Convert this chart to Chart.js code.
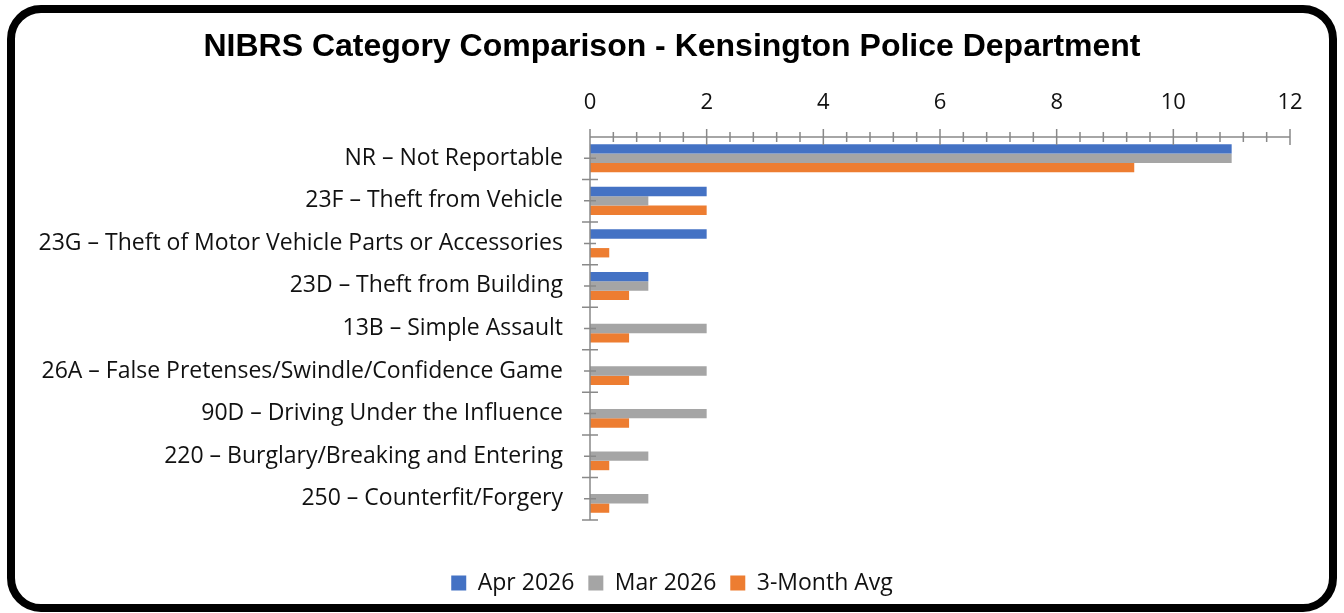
<!DOCTYPE html>
<html><head><meta charset="utf-8">
<script src="https://cdn.jsdelivr.net/npm/chart.js@4.4.1/dist/chart.umd.min.js"></script>
<style>
html,body{margin:0;padding:0;background:#fff;width:1344px;height:613px;overflow:hidden;}
#wrap{position:absolute;left:0;top:0;width:1344px;height:613px;}
#frame{position:absolute;left:7px;top:5px;width:1330px;height:607px;box-sizing:border-box;border:8px solid #000;border-radius:34px;pointer-events:none;}
</style></head><body>
<div id="wrap"><canvas id="c" width="1344" height="613"></canvas></div>
<div id="frame"></div>
<script>
const categories = [
  'NR – Not Reportable',
  '23F – Theft from Vehicle',
  '23G – Theft of Motor Vehicle Parts or Accessories',
  '23D – Theft from Building',
  '13B – Simple Assault',
  '26A – False Pretenses/Swindle/Confidence Game',
  '90D – Driving Under the Influence',
  '220 – Burglary/Breaking and Entering',
  '250 – Counterfit/Forgery'
];
const apr2026 = [11, 2, 2, 1, 0, 0, 0, 0, 0];
const mar2026 = [11, 1, 0, 1, 2, 2, 2, 1, 1];
const avg3Month = [9.33, 2, 0.33, 0.67, 0.67, 0.67, 0.67, 0.33, 0.33];
const seriesNames = ['Apr 2026', 'Mar 2026', '3-Month Avg'];
const xTicks = [0, 2, 4, 6, 8, 10, 12];
const titleText = 'NIBRS Category Comparison - Kensington Police Department';

const AXIS_COLOR = '#898989';
const excelAxes = {
  id: 'excelAxes',
  afterLayout(chart) {
    // let long category labels extend past the layout padding (no clipping)
    chart.scales.y.left = 0;
  },
  afterDatasetsDraw(chart) {
    const { ctx, chartArea: a, scales: { x, y } } = chart;
    ctx.save();
    ctx.strokeStyle = AXIS_COLOR;
    ctx.lineWidth = 1.5;
    const xmin = xTicks[0], xmax = xTicks[xTicks.length - 1];
    const step = xTicks[1] - xTicks[0];
    const minor = step / 5;
    const px0 = x.getPixelForValue(xmin), px1 = x.getPixelForValue(xmax);
    ctx.beginPath();
    ctx.moveTo(px0, a.top); ctx.lineTo(px1, a.top);
    const nMinor = Math.round((xmax - xmin) / minor);
    for (let i = 0; i <= nMinor; i++) {
      const v = xmin + i * minor;
      const p = x.getPixelForValue(v);
      const len = (i % 5 === 0) ? 8 : 5;
      ctx.moveTo(p, a.top - len); ctx.lineTo(p, a.top + len);
    }
    ctx.moveTo(px0, a.top); ctx.lineTo(px0, a.bottom);
    for (let i = 1; i <= categories.length; i++) {
      const p = y.getPixelForValue(i - 0.5);
      ctx.moveTo(px0 - 8, p); ctx.lineTo(px0 + 8, p);
    }
    for (let i = 0; i < categories.length; i++) {
      const p = y.getPixelForValue(i);
      ctx.moveTo(px0 - 6, p); ctx.lineTo(px0 + 6, p);
    }
    ctx.stroke();
    ctx.restore();
  }
};

new Chart(document.getElementById('c'), {
  type: 'bar',
  data: {
    labels: categories,
    datasets: [
      { label: seriesNames[0], data: apr2026, backgroundColor: '#4472C4' },
      { label: seriesNames[1], data: mar2026, backgroundColor: '#A5A5A5' },
      { label: seriesNames[2], data: avg3Month, backgroundColor: '#ED7D31' }
    ]
  },
  options: {
    indexAxis: 'y',
    responsive: false,
    animation: false,
    devicePixelRatio: 1,
    datasets: { bar: { categoryPercentage: 0.66, barPercentage: 1.0, borderWidth: 0 } },
    layout: { padding: { left: 54, right: 54, top: 28, bottom: 8.5 } },
    scales: {
      x: {
        position: 'top',
        min: xTicks[0], max: xTicks[xTicks.length - 1],
        afterBuildTicks(scale) { scale.ticks = xTicks.map(v => ({ value: v })); },
        grid: { display: false, drawTicks: false, tickLength: 0 },
        border: { display: false },
        ticks: { padding: 21.5, color: '#111', font: { family: 'Open Sans', size: 22 } },
        afterFit(scale) { scale.height = 60.6; }
      },
      y: {
        grid: { display: false, drawTicks: false, tickLength: 0 },
        border: { display: false },
        ticks: { padding: 27, color: '#111', font: { family: 'Open Sans', size: 23 }, autoSkip: false },
        afterFit(scale) { scale.width = 536; }
      }
    },
    plugins: {
      title: {
        display: true, text: titleText, color: '#000',
        font: { family: 'Liberation Sans', size: 32, weight: 'bold' },
        padding: { top: 0, bottom: 10 }
      },
      legend: {
        position: 'bottom',
        title: { display: true, text: '', font: { size: 10 }, padding: { top: 11.5, bottom: 14 } },
        labels: {
          boxWidth: 15, boxHeight: 15, padding: 14, color: '#111',
          font: { family: 'Open Sans', size: 23 }
        }
      },
      tooltip: { enabled: false }
    }
  },
  plugins: [excelAxes]
});
</script>
</body></html>
